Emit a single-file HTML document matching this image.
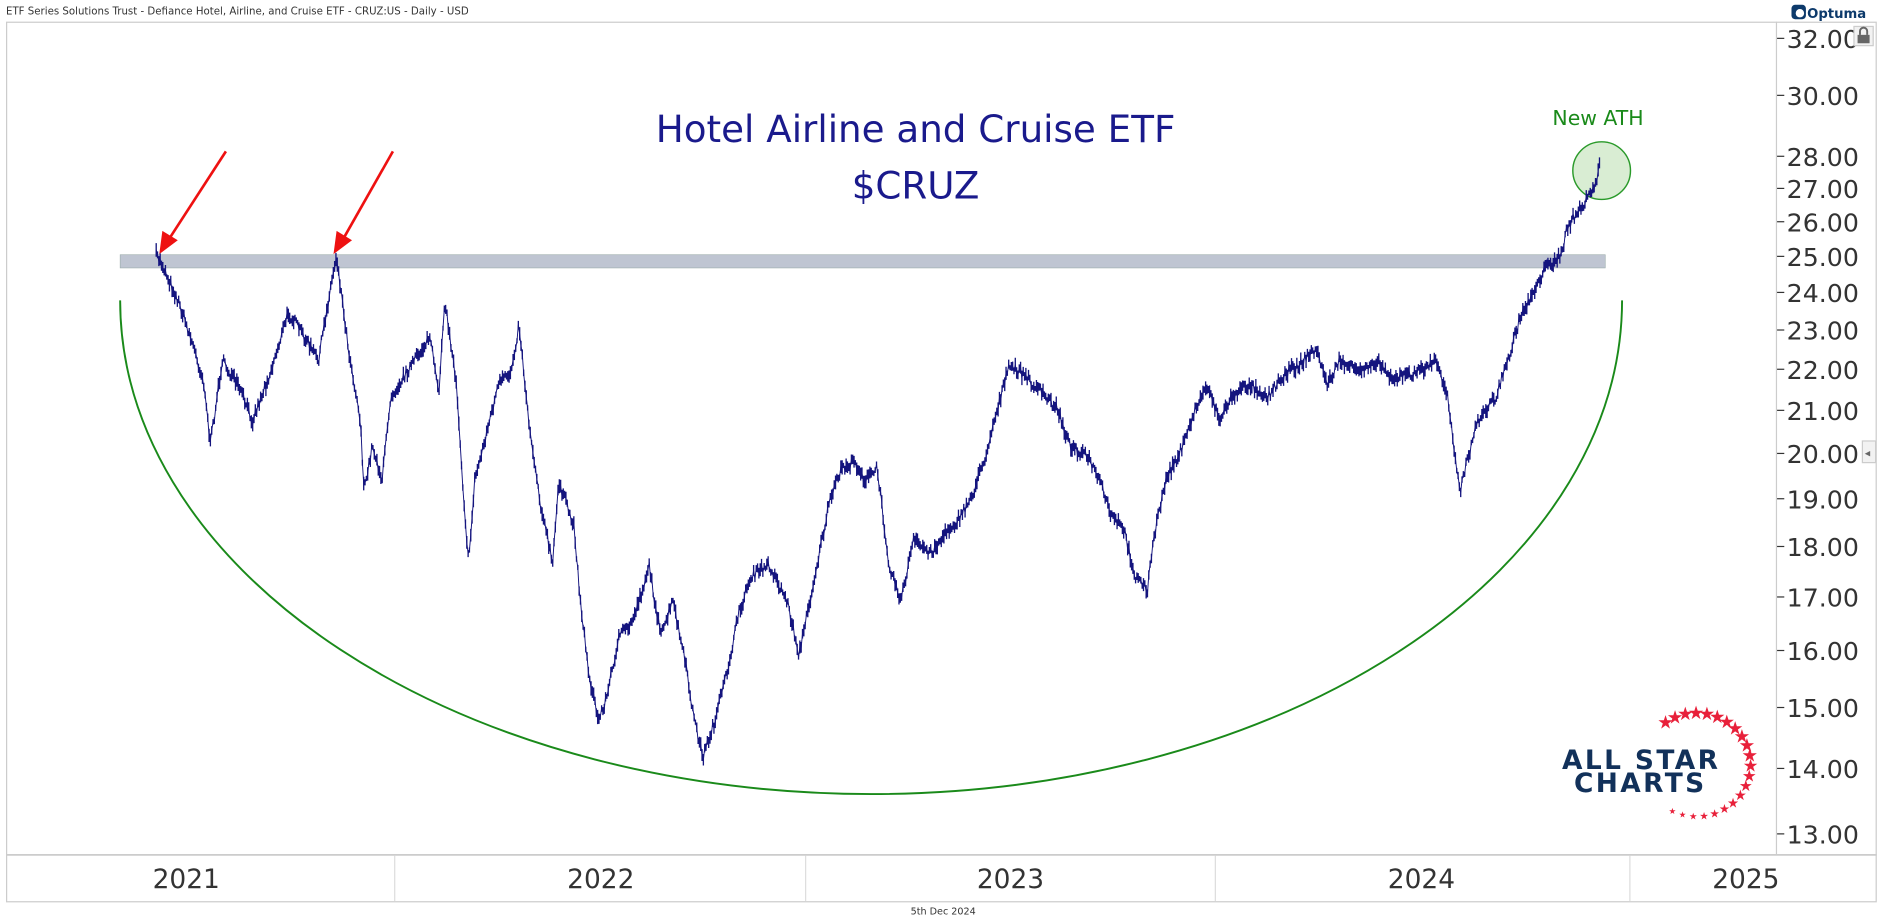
<!DOCTYPE html>
<html><head><meta charset="utf-8"><style>
html,body{margin:0;padding:0;background:#fff;width:1878px;height:924px;overflow:hidden}
svg{display:block}
text{font-family:"DejaVu Sans","Liberation Sans",sans-serif}
</style></head><body>
<svg id="s" width="1878" height="924" viewBox="0 0 1563 769" preserveAspectRatio="none" xmlns="http://www.w3.org/2000/svg">
<rect width="1563" height="769" fill="#fff"/>
<text x="5" y="12" font-size="8.5" fill="#333">ETF Series Solutions Trust - Defiance Hotel, Airline, and Cruise ETF - CRUZ:US - Daily - USD</text>
<rect x="1491" y="4" width="12" height="12" rx="3" fill="#0d3a6b"/>
<circle cx="1498" cy="11" r="3.5" fill="#fff"/>
<text x="1504" y="15" font-size="11" font-weight="bold" fill="#0d3a6b">Optuma</text>
<rect x="5.5" y="18.5" width="1556" height="732" fill="none" stroke="#ccc"/>
<line x1="1478.5" y1="18" x2="1478.5" y2="711" stroke="#ccc"/>
<line x1="5" y1="711.5" x2="1562" y2="711.5" stroke="#ccc" stroke-width="1.5"/>
<g stroke="#ddd"><line x1="328.5" y1="712" x2="328.5" y2="750"/><line x1="670.5" y1="712" x2="670.5" y2="750"/><line x1="1011.5" y1="712" x2="1011.5" y2="750"/><line x1="1356.5" y1="712" x2="1356.5" y2="750"/></g>
<g font-size="22" fill="#333" text-anchor="middle">
<text x="155" y="739">2021</text><text x="500" y="739">2022</text><text x="841" y="739">2023</text><text x="1183" y="739">2024</text><text x="1453" y="739">2025</text></g>
<text x="785" y="761" font-size="8" fill="#333" text-anchor="middle">5th Dec 2024</text>
<g id="yax" font-size="21" fill="#333"></g>
<rect x="1543" y="22" width="16" height="16" fill="#f2f2f2" stroke="#ccc"/>
<rect x="1546" y="29" width="10" height="7" fill="#666"/><path d="M1548 29v-3a3 3 0 0 1 6 0v3" fill="none" stroke="#666" stroke-width="1.6"/>
<rect x="1550" y="367" width="11" height="18" fill="#f2f2f2" stroke="#ccc"/><text x="1552" y="380" font-size="9" fill="#666">◂</text>
<rect x="100" y="212" width="1236" height="11" fill="#bfc5d2" stroke="#9aa" stroke-width="0.5"/>
<path d="M100 250 A625 411 0 0 0 1350 250" fill="none" stroke="#1a8a1a" stroke-width="1.6"/>
<g stroke="#ee1111" stroke-width="2.2" fill="#ee1111">
<line x1="188" y1="126" x2="140" y2="200"/><path d="M134 209 L136 194 L146 200 Z"/>
<line x1="327" y1="126" x2="285" y2="200"/><path d="M279 209 L281 194 L291 200 Z"/></g>
<text x="762" y="118" font-size="31" fill="#1a1a8c" text-anchor="middle" font-family="Liberation Sans, sans-serif">Hotel Airline and Cruise ETF</text>
<text x="762" y="165" font-size="31" fill="#1a1a8c" text-anchor="middle" font-family="Liberation Sans, sans-serif">$CRUZ</text>
<text x="1330" y="104" font-size="17" fill="#1a8a1a" text-anchor="middle" font-family="Liberation Sans, sans-serif">New ATH</text>
<circle cx="1333" cy="142" r="24" fill="#cfe8c8" stroke="#2a9a2a" stroke-width="1.2" fill-opacity="0.8"/>
<g id="price"></g>
<text x="1300" y="640" font-size="22" font-weight="bold" fill="#12315a" letter-spacing="2" font-family="Liberation Sans, sans-serif">ALL STAR</text>
<text x="1310" y="659" font-size="22" font-weight="bold" fill="#12315a" letter-spacing="2" font-family="Liberation Sans, sans-serif">CHARTS</text>
<g id="stars" fill="#e8203a"></g>
</svg>
<script>
var NS="http://www.w3.org/2000/svg";
function Y(p){return 694-(Math.log(p)-Math.log(13))*735;}
var ya=document.getElementById('yax');
[32,30,28,27,26,25,24,23,22,21,20,19,18,17,16,15,14,13].forEach(function(p){
 var y=Y(p);var l=document.createElementNS(NS,'line');l.setAttribute('x1',1479);l.setAttribute('x2',1485);l.setAttribute('y1',y);l.setAttribute('y2',y);l.setAttribute('stroke','#333');ya.appendChild(l);
 var t=document.createElementNS(NS,'text');t.setAttribute('x',1487);t.setAttribute('y',y+8);t.textContent=p.toFixed(2);ya.appendChild(t);});
var k=[[130,212],[135,220],[150,255],[160,285],[170,320],[175,370],[185,300],[200,325],[210,350],[225,310],[240,260],[250,275],[265,300],[275,240],[280,212],[290,290],[300,350],[303,410],[310,370],[318,400],[325,330],[345,300],[358,280],[365,330],[370,250],[380,320],[385,400],[390,470],[395,400],[405,360],[415,320],[425,310],[432,270],[440,350],[450,420],[460,470],[465,400],[478,440],[483,500],[490,560],[498,600],[505,580],[515,530],[525,520],[535,490],[540,470],[550,530],[560,500],[570,550],[578,600],[585,630],[595,600],[605,560],[615,510],[625,480],[640,470],[655,500],[665,545],[680,470],[690,420],[700,390],[712,385],[720,400],[730,390],[740,470],[750,500],[760,450],[775,460],[790,440],[800,430],[810,410],[820,380],[830,340],[840,305],[850,310],[865,325],[880,340],[890,370],[905,380],[915,400],[925,430],[935,440],[945,480],[955,490],[960,450],[970,400],[985,370],[995,340],[1005,320],[1015,350],[1025,330],[1040,320],[1055,330],[1070,310],[1080,305],[1095,290],[1105,320],[1115,300],[1130,310],[1145,300],[1160,315],[1180,310],[1195,300],[1205,330],[1210,370],[1215,410],[1222,380],[1230,350],[1245,330],[1255,300],[1265,265],[1275,245],[1285,225],[1295,215],[1300,212],[1303,195],[1310,180],[1318,170],[1325,160],[1330,145],[1332,128]];
var seed=7;function r(){seed=(seed*16807)%2147483647;return seed/2147483647;}
var d="",pl="",j=0;
for(var x=130;x<=1332;x+=1.1){
 while(j<k.length-2&&k[j+1][0]<x)j++;
 var a=k[j],b=k[j+1],t=(x-a[0])/(b[0]-a[0]);t=Math.max(0,Math.min(1,t));
 var y=a[1]+(b[1]-a[1])*t+(r()-0.5)*8;
 var h=4+r()*8;
 d+="M"+x.toFixed(1)+" "+(y-h/2).toFixed(1)+"V"+(y+h/2).toFixed(1);
 pl+=(pl?"L":"M")+x.toFixed(1)+" "+y.toFixed(1);
}
function mk(dd,w){var p=document.createElementNS(NS,'path');p.setAttribute('d',dd);p.setAttribute('stroke','#14147e');p.setAttribute('stroke-width',w);p.setAttribute('fill','none');document.getElementById('price').appendChild(p);}
mk(pl,'0.8');mk(d,'1.1');
var st=document.getElementById('stars');
for(var i=0;i<22;i++){
 var ang=-125+i*11.5;var rad=ang*Math.PI/180;
 var cx=1412+45*Math.cos(rad),cy=637+43*Math.sin(rad);
 var s=i<11?11:Math.max(5,11-(i-10)*0.6);
 var tt=document.createElementNS(NS,'text');tt.setAttribute('x',cx);tt.setAttribute('y',cy+s/2.5);tt.setAttribute('font-size',s*1.4);tt.setAttribute('text-anchor','middle');tt.textContent='★';st.appendChild(tt);
}
</script>
</body></html>
